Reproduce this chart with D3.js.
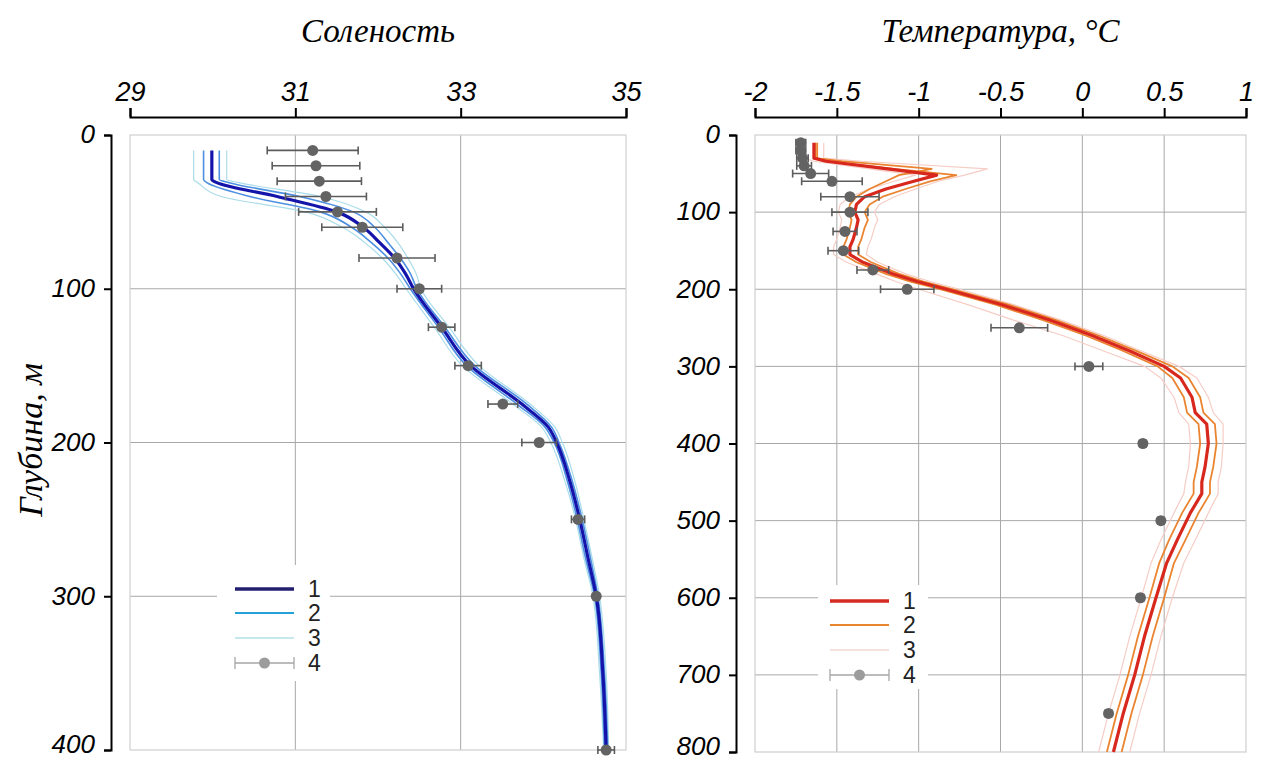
<!DOCTYPE html>
<html>
<head>
<meta charset="utf-8">
<script src="https://cdn.jsdelivr.net/npm/d3@7"></script>
<style>
  html, body { margin: 0; padding: 0; background: #fff; }
  svg { display: block; }
</style>
</head>
<body>
<svg id="chart" width="1267" height="762"></svg>
<script>
// ---------- Salinity profiles ----------
const salDepth = [10, 29, 31, 40, 50, 60, 70, 80, 90, 100, 125, 150, 175, 190, 200, 225, 250, 275, 300, 350, 400];
const salMean  = [29.99, 29.99, 30.05, 30.78, 31.50, 31.82, 32.02, 32.20, 32.33, 32.43, 32.77, 33.12, 33.74, 34.06, 34.16, 34.32, 34.44, 34.54, 34.64, 34.72, 34.76];
const salHi2   = [30.08, 30.08, 30.20, 31.05, 31.70, 31.96, 32.12, 32.27, 32.39, 32.47, 32.81, 33.17, 33.80, 34.10, 34.19, 34.35, 34.47, 34.57, 34.66, 34.74, 34.78];
const salLo2   = [29.89, 29.89, 29.93, 30.45, 31.30, 31.68, 31.92, 32.12, 32.27, 32.39, 32.73, 33.07, 33.68, 34.02, 34.13, 34.29, 34.41, 34.51, 34.62, 34.70, 34.74];
const salHi3   = [30.17, 30.17, 30.32, 31.30, 31.85, 32.08, 32.24, 32.36, 32.46, 32.52, 32.86, 33.22, 33.84, 34.14, 34.23, 34.38, 34.49, 34.59, 34.68, 34.76, 34.79];
const salLo3   = [29.77, 29.77, 29.82, 30.10, 31.12, 31.57, 31.84, 32.05, 32.21, 32.34, 32.68, 33.02, 33.63, 33.98, 34.09, 34.26, 34.39, 34.49, 34.60, 34.68, 34.73];

// observed salinity with spread
const obsSalDepth = [10, 20, 30, 40, 50, 60, 80, 100, 125, 150, 175, 200, 250, 300, 400];
const obsSal      = [31.21, 31.25, 31.29, 31.37, 31.51, 31.81, 32.23, 32.50, 32.77, 33.09, 33.51, 33.95, 34.42, 34.64, 34.76];
const obsSalErr   = [0.55, 0.53, 0.51, 0.49, 0.47, 0.49, 0.46, 0.27, 0.16, 0.16, 0.18, 0.21, 0.08, 0.02, 0.10];

// ---------- Temperature profiles ----------
const tempDepth = [10, 30, 34, 44, 52, 60, 70, 80, 90, 100, 110, 120, 135, 145, 155, 165, 180, 190, 200, 220, 240, 260, 280, 300, 315, 340, 360, 375, 400, 430, 450, 465, 490, 525, 555, 600, 650, 700, 750, 800];
const tempMean = [-1.64, -1.64, -1.565, -1.19, -0.89, -1.03, -1.20, -1.33, -1.38, -1.39, -1.37, -1.38, -1.40, -1.42, -1.42, -1.34, -1.16, -1.01, -0.83, -0.49, -0.20, 0.06, 0.29, 0.50, 0.60, 0.67, 0.69, 0.76, 0.77, 0.75, 0.73, 0.73, 0.66, 0.58, 0.515, 0.45, 0.38, 0.32, 0.25, 0.19];
const tempA2   = [-1.63, -1.63, -1.47, -0.92, -1.12, -1.20, -1.30, -1.38, -1.42, -1.43, -1.41, -1.42, -1.44, -1.46, -1.46, -1.38, -1.20, -1.05, -0.87, -0.53, -0.24, 0.02, 0.25, 0.46, 0.55, 0.62, 0.64, 0.71, 0.72, 0.70, 0.68, 0.68, 0.61, 0.53, 0.47, 0.41, 0.34, 0.28, 0.21, 0.15];
const tempB2   = [-1.62, -1.62, -1.58, -1.15, -0.77, -0.93, -1.08, -1.22, -1.30, -1.33, -1.31, -1.33, -1.35, -1.37, -1.37, -1.29, -1.12, -0.97, -0.79, -0.45, -0.16, 0.10, 0.33, 0.55, 0.65, 0.72, 0.74, 0.81, 0.82, 0.80, 0.78, 0.78, 0.71, 0.63, 0.56, 0.50, 0.43, 0.37, 0.30, 0.24];
const tempHi3  = [-1.58, -1.58, -1.35, -0.58, -0.72, -0.88, -1.02, -1.15, -1.24, -1.27, -1.25, -1.27, -1.29, -1.31, -1.32, -1.25, -1.08, -0.93, -0.75, -0.42, -0.13, 0.13, 0.36, 0.59, 0.70, 0.77, 0.80, 0.86, 0.86, 0.85, 0.83, 0.83, 0.77, 0.69, 0.62, 0.55, 0.48, 0.42, 0.35, 0.29];
const tempLo3  = [-1.70, -1.70, -1.64, -1.30, -1.02, -1.15, -1.30, -1.42, -1.48, -1.49, -1.47, -1.48, -1.50, -1.52, -1.52, -1.44, -1.26, -1.14, -1.00, -0.70, -0.42, -0.12, 0.13, 0.38, 0.48, 0.56, 0.59, 0.65, 0.66, 0.65, 0.63, 0.62, 0.56, 0.48, 0.42, 0.36, 0.29, 0.23, 0.16, 0.10];

// observed temperature with spread
const obsTempDepth = [10, 20, 30, 40, 50, 60, 80, 100, 125, 150, 175, 200, 250, 300, 400, 500, 600, 750];
const obsTemp      = [-1.72, -1.72, -1.71, -1.70, -1.66, -1.53, -1.42, -1.42, -1.45, -1.46, -1.28, -1.07, -0.385, 0.04, 0.37, 0.48, 0.355, 0.16];
const obsTempErr   = [0.03, 0.03, 0.035, 0.045, 0.11, 0.185, 0.178, 0.11, 0.073, 0.094, 0.097, 0.163, 0.173, 0.085, 0.02, 0.02, 0.02, 0.02];

// ---------- Axis ticks and labels ----------
const salTicks   = [29, 31, 33, 35];
const salDepthTicks = [0, 100, 200, 300, 400];
const tempTicks  = [-2, -1.5, -1, -0.5, 0, 0.5, 1];
const tempDepthTicks = [0, 100, 200, 300, 400, 500, 600, 700, 800];
const legendLabels = ["1", "2", "3", "4"];

// ---------- Drawing ----------
const svg = d3.select("#chart");
svg.append("rect").attr("width", 1267).attr("height", 762).attr("fill", "#fff");

const tickFont = "'Liberation Sans', Arial, sans-serif";
const titleFont = "'Liberation Serif', 'Times New Roman', serif";

function zip(depths, values) { return depths.map((d, i) => [values[i], d]); }

function panel(cfg) {
  const x = d3.scaleLinear().domain(cfg.xDomain).range([cfg.left, cfg.right]);
  const y = d3.scaleLinear().domain(cfg.yDomain).range([cfg.top, cfg.bottom]);
  const g = svg.append("g");

  // grid
  g.append("g").selectAll("line").data(cfg.xTicks.slice(1, -1)).join("line")
    .attr("x1", d => x(d)).attr("x2", d => x(d))
    .attr("y1", cfg.top).attr("y2", cfg.bottom)
    .attr("stroke", "#a8a8a8").attr("stroke-width", 1);
  g.append("g").selectAll("line").data(cfg.yTicks.slice(1, -1)).join("line")
    .attr("y1", d => y(d)).attr("y2", d => y(d))
    .attr("x1", cfg.left).attr("x2", cfg.right)
    .attr("stroke", "#a8a8a8").attr("stroke-width", 1);
  g.append("rect")
    .attr("x", cfg.left).attr("y", cfg.top)
    .attr("width", cfg.right - cfg.left).attr("height", cfg.bottom - cfg.top)
    .attr("fill", "none").attr("stroke", "#cfcfcf").attr("stroke-width", 1.2);

  // legend box (drawn before lines so it hides only the grid)
  const lg = cfg.legend;
  g.append("rect")
    .attr("x", lg.x0).attr("y", lg.y0).attr("width", lg.w).attr("height", lg.h)
    .attr("fill", "#fff");

  // top axis
  const ax = d3.axisTop(x).tickValues(cfg.xTicks).tickSize(9).tickPadding(7)
    .tickFormat(d => String(d));
  const axg = g.append("g").attr("transform", `translate(0,${cfg.top - 18})`).call(ax);
  axg.select(".domain").attr("stroke", "#000").attr("stroke-width", 2);
  axg.selectAll(".tick line").attr("stroke", "#000").attr("stroke-width", 2);
  axg.selectAll("text").attr("font-family", tickFont).attr("font-size", 27)
    .attr("font-style", "italic").attr("fill", "#000");

  // left axis (the bottom label is lifted a little so it stays inside the page)
  const ay = d3.axisLeft(y).tickValues(cfg.yTicks).tickSize(7).tickPadding(9)
    .tickFormat(d => String(d));
  const ayg = g.append("g").attr("transform", `translate(${cfg.left - 19},0)`).call(ay);
  ayg.select(".domain").attr("stroke", "#000").attr("stroke-width", 2);
  ayg.selectAll(".tick line").attr("stroke", "#000").attr("stroke-width", 2);
  const lastTick = cfg.yTicks[cfg.yTicks.length - 1];
  ayg.selectAll("text").attr("font-family", tickFont).attr("font-size", 26)
    .attr("font-style", "italic").attr("fill", "#000")
    .attr("dy", d => d === lastTick ? "0.1em" : "0.3em");

  // title
  g.append("text").attr("x", (cfg.left + cfg.right) / 2).attr("y", 42)
    .attr("text-anchor", "middle").attr("font-family", titleFont)
    .attr("font-style", "italic").attr("font-size", 33).attr("fill", "#000")
    .text(cfg.title);

  // profile lines: outer envelope, inner envelope, then the main profile
  const line = d3.line().x(p => x(p[0])).y(p => y(p[1])).curve(cfg.curve);
  cfg.series.forEach(s => {
    g.append("path").datum(zip(cfg.depths, s.values))
      .attr("d", line).attr("fill", "none")
      .attr("stroke", s.color).attr("stroke-width", s.width)
      .attr("stroke-linejoin", "round");
  });

  // observations with error bars
  const obs = cfg.obsDepth.map((d, i) => ({ d, v: cfg.obs[i], e: cfg.obsErr[i] }));
  const eb = g.append("g").attr("stroke", "#5c5c5c").attr("stroke-width", 1.6);
  obs.forEach(o => {
    const yy = y(o.d);
    eb.append("line").attr("x1", x(o.v - o.e)).attr("x2", x(o.v + o.e)).attr("y1", yy).attr("y2", yy);
    eb.append("line").attr("x1", x(o.v - o.e)).attr("x2", x(o.v - o.e)).attr("y1", yy - 4).attr("y2", yy + 4);
    eb.append("line").attr("x1", x(o.v + o.e)).attr("x2", x(o.v + o.e)).attr("y1", yy - 4).attr("y2", yy + 4);
  });
  g.append("g").selectAll("circle").data(obs).join("circle")
    .attr("cx", o => x(o.v)).attr("cy", o => y(o.d)).attr("r", 5.5)
    .attr("fill", "#636363");

  // legend entries 1–3: line swatches
  const lx1 = lg.lineX, lx2 = lg.lineX + 59;
  lg.items.forEach((it, i) => {
    const yy = lg.rows[i];
    g.append("line").attr("x1", lx1).attr("x2", lx2).attr("y1", yy).attr("y2", yy)
      .attr("stroke", it.color).attr("stroke-width", it.width);
  });
  // legend entry 4: observation with error bar
  const y4 = lg.rows[3];
  const lg4 = g.append("g").attr("stroke", "#a6a6a6").attr("stroke-width", 1.3);
  lg4.append("line").attr("x1", lx1).attr("x2", lx2).attr("y1", y4).attr("y2", y4);
  lg4.append("line").attr("x1", lx1).attr("x2", lx1).attr("y1", y4 - 6).attr("y2", y4 + 6);
  lg4.append("line").attr("x1", lx2).attr("x2", lx2).attr("y1", y4 - 6).attr("y2", y4 + 6);
  g.append("circle").attr("cx", (lx1 + lx2) / 2).attr("cy", y4).attr("r", 5.5).attr("fill", "#9c9c9c");
  legendLabels.forEach((t, i) => {
    g.append("text").attr("x", lg.textX).attr("y", lg.rows[i]).attr("dy", "0.36em")
      .attr("font-family", tickFont).attr("font-size", 23).attr("fill", "#222")
      .text(t);
  });
}

panel({
  xDomain: [29, 35], yDomain: [0, 400],
  left: 130, right: 626, top: 135, bottom: 750,
  xTicks: salTicks, yTicks: salDepthTicks,
  title: "Соленость",
  depths: salDepth,
  curve: d3.curveMonotoneY,
  series: [
    { values: salLo3, color: "#a9dcea", width: 1.2 },
    { values: salHi3, color: "#a9dcea", width: 1.2 },
    { values: salLo2, color: "#4d8fe0", width: 1.6 },
    { values: salHi2, color: "#4d8fe0", width: 1.6 },
    { values: salMean, color: "#1414aa", width: 3.2 }
  ],
  obsDepth: obsSalDepth, obs: obsSal, obsErr: obsSalErr,
  legend: {
    x0: 217, y0: 565, w: 113, h: 116, lineX: 235, textX: 308, rows: [589, 613, 638, 663],
    items: [
      { color: "#231f70", width: 3.5 },
      { color: "#24a2d8", width: 2 },
      { color: "#b5e0e6", width: 1.3 }
    ]
  }
});

panel({
  xDomain: [-2, 1], yDomain: [0, 800],
  left: 755, right: 1246, top: 135, bottom: 752,
  xTicks: tempTicks, yTicks: tempDepthTicks,
  title: "Температура, °С",
  depths: tempDepth,
  curve: d3.curveLinear,
  series: [
    { values: tempLo3, color: "#f6cdc6", width: 1.2 },
    { values: tempHi3, color: "#f6cdc6", width: 1.2 },
    { values: tempA2, color: "#ea8430", width: 1.8 },
    { values: tempB2, color: "#ea8430", width: 1.8 },
    { values: tempMean, color: "#d8281e", width: 3.2 }
  ],
  obsDepth: obsTempDepth, obs: obsTemp, obsErr: obsTempErr,
  legend: {
    x0: 818, y0: 585, w: 110, h: 104, lineX: 830, textX: 903, rows: [601, 625, 650, 675],
    items: [
      { color: "#d42a22", width: 3.5 },
      { color: "#e8862e", width: 2 },
      { color: "#f1d6d0", width: 1.3 }
    ]
  }
});

// y-axis title
svg.append("text")
  .attr("transform", "translate(42,440) rotate(-90)")
  .attr("text-anchor", "middle").attr("font-family", titleFont)
  .attr("font-style", "italic").attr("font-size", 34).attr("fill", "#000")
  .text("Глубина, м");
</script>
</body>
</html>
